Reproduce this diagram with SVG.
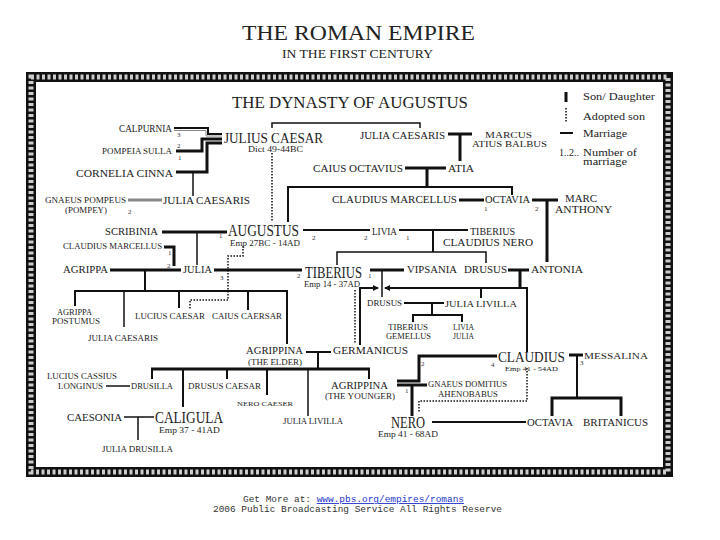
<svg xmlns="http://www.w3.org/2000/svg" width="720" height="540" viewBox="0 0 720 540">
<style>
.n{font-family:"Liberation Serif","DejaVu Serif",serif;fill:#222}
.k{font-family:"Liberation Serif","DejaVu Serif",serif;fill:#333;font-size:7px}
.lg{font-family:"Liberation Serif","DejaVu Serif",serif;fill:#222;font-size:9.5px}
.ft{font-family:"Liberation Mono","DejaVu Sans Mono",monospace;font-size:9px;fill:#333}
.ln{fill:none;stroke:#111;stroke-linecap:butt}
.w3{stroke-width:3}
.w2{stroke-width:2}
.w1{stroke-width:1.5}
.dt{stroke-width:1.5;stroke-dasharray:1.5 1.5}
.gr{stroke:#888}
</style>
<defs>
<marker id="ar" markerWidth="6" markerHeight="6" refX="5" refY="3" orient="auto" markerUnits="userSpaceOnUse">
<path d="M0,0 L6,3 L0,6 Z" fill="#111"/>
</marker>
</defs>
<rect width="720" height="540" fill="#fff"/>
<g id="title">
<text class="n" x="242" y="40" font-size="22" textLength="233" lengthAdjust="spacingAndGlyphs">THE ROMAN EMPIRE</text>
<text class="n" x="282" y="58" font-size="13" textLength="151" lengthAdjust="spacingAndGlyphs">IN THE FIRST CENTURY</text>
</g>
<g id="frame">
<rect x="31" y="77" width="637" height="395" fill="none" stroke="#111" stroke-width="10"/>
<rect x="31" y="77" width="637" height="395" fill="none" stroke="#ccc" stroke-width="5" stroke-dasharray="3 2.5"/>
</g>
<g id="heading">
<text class="n" x="232" y="108" font-size="16.5" textLength="236" lengthAdjust="spacingAndGlyphs">THE DYNASTY OF AUGUSTUS</text>
</g>
<g id="legend">
<line class="ln w3" x1="566" y1="92" x2="566" y2="102"/>
<line class="ln dt" x1="566" y1="108" x2="566" y2="122"/>
<line class="ln w2" x1="560" y1="133" x2="573" y2="133"/>
<text class="lg" x="583" y="100" textLength="72" lengthAdjust="spacingAndGlyphs">Son/ Daughter</text>
<text class="lg" x="583" y="120" textLength="62" lengthAdjust="spacingAndGlyphs">Adopted son</text>
<text class="lg" x="583" y="137" textLength="44" lengthAdjust="spacingAndGlyphs">Marriage</text>
<text class="lg" x="559" y="156" font-size="7.5" textLength="20" lengthAdjust="spacingAndGlyphs">1..2..</text>
<text class="lg" x="583" y="156" font-size="8.5" textLength="54" lengthAdjust="spacingAndGlyphs">Number of</text>
<text class="lg" x="583" y="165" font-size="8.5" textLength="44" lengthAdjust="spacingAndGlyphs">marriage</text>
</g>
<g id="connectors">
<polyline class="ln w1" points="272,128 272,123 420,123 420,128"/>
<line class="ln dt" x1="272" y1="153" x2="272" y2="222"/>
<polyline class="ln w2" points="174,128 208,128 208,134 222,134"/>
<polyline class="ln gr" stroke-width="1" points="174,130.5 206,130.5 206,136 222,136"/>
<polyline class="ln w3" points="176,151 202,151 202,139 222,139"/>
<polyline class="ln w3" points="176,172 207,172 207,143 222,143"/>
<line class="ln w1" x1="193" y1="172" x2="193" y2="196"/>
<line class="ln gr" stroke-width="3" x1="128" y1="200" x2="162" y2="200"/>
<line class="ln w3" x1="448" y1="134" x2="472" y2="134"/>
<line class="ln w3" x1="460" y1="134" x2="460" y2="161"/>
<line class="ln w3" x1="405" y1="168" x2="446" y2="168"/>
<line class="ln w3" x1="427" y1="168" x2="427" y2="187"/>
<polyline class="ln w2" points="288,222 288,187 512,187 512,195"/>
<line class="ln w3" x1="459" y1="200" x2="484" y2="200"/>
<line class="ln w3" x1="532" y1="200" x2="558" y2="200"/>
<line class="ln w3" x1="547" y1="200" x2="547" y2="262"/>
<line class="ln w3" x1="162" y1="232" x2="227" y2="232"/>
<line class="ln w1" x1="197" y1="232" x2="197" y2="265"/>
<line class="ln w2" x1="303" y1="230" x2="370" y2="230"/>
<line class="ln w2" x1="399" y1="230" x2="468" y2="230"/>
<line class="ln w2" x1="433" y1="230" x2="433" y2="252"/>
<polyline class="ln w1" points="337,265 337,252 486,252 486,263"/>
<polyline class="ln w3" points="164,247 174,247 174,266"/>
<line class="ln w3" x1="110" y1="270" x2="181" y2="270"/>
<line class="ln w3" x1="214" y1="270" x2="302" y2="270"/>
<line class="ln w2" x1="145" y1="270" x2="145" y2="291"/>
<line class="ln w2" x1="74" y1="291" x2="288" y2="291"/>
<line class="ln w2" x1="75" y1="291" x2="75" y2="306"/>
<line class="ln w1" x1="124" y1="291" x2="124" y2="327"/>
<line class="ln w2" x1="179" y1="291" x2="179" y2="308"/>
<line class="ln w2" x1="248" y1="291" x2="248" y2="310"/>
<line class="ln w2" x1="287" y1="291" x2="287" y2="344"/>
<polyline class="ln dt" points="243,246 243,256 228,256 228,300 190,300 190,310"/>
<line class="ln dt" x1="355" y1="290" x2="355" y2="343"/>
<line class="ln w3" x1="370" y1="270" x2="404" y2="270"/>
<line class="ln w1" x1="382" y1="270" x2="382" y2="297"/>
<line class="ln w3" x1="508" y1="270" x2="529" y2="270"/>
<line class="ln w3" x1="520" y1="270" x2="520" y2="288"/>
<line class="ln w2" x1="359" y1="288" x2="378" y2="288" marker-end="url(#ar)"/>
<line class="ln w2" x1="528" y1="288" x2="385" y2="288" marker-end="url(#ar)"/>
<line class="ln w2" x1="360" y1="288" x2="360" y2="345"/>
<line class="ln w2" x1="527" y1="288" x2="527" y2="352"/>
<line class="ln w2" x1="481" y1="288" x2="481" y2="298"/>
<line class="ln w2" x1="404" y1="303" x2="444" y2="303"/>
<line class="ln w2" x1="432" y1="303" x2="432" y2="315"/>
<polyline class="ln w2" points="413,322 413,315 462,315 462,322"/>
<line class="ln w2" x1="306" y1="352" x2="331" y2="352"/>
<line class="ln w2" x1="318" y1="352" x2="318" y2="369"/>
<line class="ln w3" x1="151" y1="369" x2="370" y2="369"/>
<line class="ln w2" x1="152" y1="369" x2="152" y2="379"/>
<line class="ln w2" x1="183" y1="369" x2="183" y2="407"/>
<line class="ln w2" x1="227" y1="369" x2="227" y2="379"/>
<line class="ln w2" x1="267" y1="369" x2="267" y2="395"/>
<line class="ln w1" x1="308" y1="369" x2="308" y2="416"/>
<line class="ln w2" x1="369" y1="369" x2="369" y2="379"/>
<line class="ln w1" x1="106" y1="386" x2="130" y2="386"/>
<line class="ln w1" x1="124" y1="417" x2="154" y2="417"/>
<line class="ln w1" x1="138" y1="417" x2="138" y2="440"/>
<polyline class="ln w3" points="397,381 419,381 419,356 497,356"/>
<line class="ln w3" x1="397" y1="385" x2="427" y2="385"/>
<line class="ln w3" x1="412" y1="385" x2="412" y2="416"/>
<polyline class="ln dt" points="527,368 527,401 419,401 419,412"/>
<line class="ln w3" x1="569" y1="355" x2="583" y2="355"/>
<line class="ln w2" x1="577" y1="355" x2="577" y2="398"/>
<polyline class="ln w3" points="552,416 552,398 621,398 621,416"/>
<line class="ln w2" x1="432" y1="422" x2="526" y2="422"/>
</g>
<g id="calpurnia"><text class="n" x="119" y="132" font-size="9.5" textLength="53" lengthAdjust="spacingAndGlyphs">CALPURNIA</text><text class="k" x="177" y="137">3</text></g>
<g id="pompeia-sulla"><text class="n" x="102" y="154" font-size="8.5" textLength="70" lengthAdjust="spacingAndGlyphs">POMPEIA SULLA</text><text class="k" x="177" y="148">2</text><text class="k" x="178" y="160">1</text></g>
<g id="julius-caesar"><text class="n" x="224" y="143" font-size="15" textLength="99" lengthAdjust="spacingAndGlyphs">JULIUS CAESAR</text><text class="n" x="248" y="152" font-size="7.5" textLength="55" lengthAdjust="spacingAndGlyphs">Dict 49-44BC</text></g>
<g id="cornelia-cinna"><text class="n" x="76" y="177" font-size="11" textLength="97" lengthAdjust="spacingAndGlyphs">CORNELIA CINNA</text></g>
<g id="julia-caesaris-daughter"><text class="n" x="163" y="204" font-size="11" textLength="87" lengthAdjust="spacingAndGlyphs">JULIA CAESARIS</text></g>
<g id="pompey"><text class="n" x="45" y="203" font-size="7.5" textLength="81" lengthAdjust="spacingAndGlyphs">GNAEUS POMPEUS</text><text class="n" x="65" y="213" font-size="7.5" textLength="42" lengthAdjust="spacingAndGlyphs">(POMPEY)</text><text class="k" x="128" y="214">2</text></g>
<g id="julia-caesaris-sister"><text class="n" x="360" y="139" font-size="10" textLength="85" lengthAdjust="spacingAndGlyphs">JULIA CAESARIS</text></g>
<g id="marcus-atius-balbus"><text class="n" x="485" y="138" font-size="9" textLength="47" lengthAdjust="spacingAndGlyphs">MARCUS</text><text class="n" x="472" y="147" font-size="9" textLength="75" lengthAdjust="spacingAndGlyphs">ATIUS BALBUS</text></g>
<g id="caius-octavius"><text class="n" x="313" y="172" font-size="10.5" textLength="90" lengthAdjust="spacingAndGlyphs">CAIUS OCTAVIUS</text></g>
<g id="atia"><text class="n" x="448" y="172" font-size="10.5" textLength="26" lengthAdjust="spacingAndGlyphs">ATIA</text></g>
<g id="claudius-marcellus"><text class="n" x="332" y="203" font-size="10" textLength="125" lengthAdjust="spacingAndGlyphs">CLAUDIUS MARCELLUS</text></g>
<g id="octavia"><text class="n" x="485" y="203" font-size="10" textLength="45" lengthAdjust="spacingAndGlyphs">OCTAVIA</text><text class="k" x="484" y="211">1</text><text class="k" x="535" y="211">2</text></g>
<g id="marc-anthony"><text class="n" x="565" y="202" font-size="9.5" textLength="32" lengthAdjust="spacingAndGlyphs">MARC</text><text class="n" x="555" y="213" font-size="10.5" textLength="57" lengthAdjust="spacingAndGlyphs">ANTHONY</text></g>
<g id="scribinia"><text class="n" x="105" y="235" font-size="10.5" textLength="53" lengthAdjust="spacingAndGlyphs">SCRIBINIA</text></g>
<g id="augustus"><text class="n" x="228" y="236" font-size="16" textLength="71" lengthAdjust="spacingAndGlyphs">AUGUSTUS</text><text class="n" x="230" y="246" font-size="8" textLength="70" lengthAdjust="spacingAndGlyphs">Emp 27BC - 14AD</text><text class="k" x="219" y="238">1</text><text class="k" x="312" y="240">2</text></g>
<g id="livia"><text class="n" x="372" y="235" font-size="9.5" textLength="25" lengthAdjust="spacingAndGlyphs">LIVIA</text><text class="k" x="364" y="240">2</text><text class="k" x="406" y="240">1</text></g>
<g id="tiberius-claudius-nero"><text class="n" x="470" y="235" font-size="9.5" textLength="45" lengthAdjust="spacingAndGlyphs">TIBERIUS</text><text class="n" x="443" y="246" font-size="10" textLength="90" lengthAdjust="spacingAndGlyphs">CLAUDIUS NERO</text></g>
<g id="claudius-marcellus-2"><text class="n" x="63" y="249" font-size="7.5" textLength="99" lengthAdjust="spacingAndGlyphs">CLAUDIUS MARCELLUS</text><text class="k" x="168" y="255">1</text></g>
<g id="agrippa"><text class="n" x="63" y="273" font-size="10" textLength="45" lengthAdjust="spacingAndGlyphs">AGRIPPA</text><text class="k" x="167" y="268">2</text></g>
<g id="julia"><text class="n" x="183" y="273" font-size="10" textLength="29" lengthAdjust="spacingAndGlyphs">JULIA</text><text class="k" x="220" y="280">3</text></g>
<g id="tiberius"><text class="n" x="305" y="278" font-size="16" textLength="57" lengthAdjust="spacingAndGlyphs">TIBERIUS</text><text class="n" x="304" y="287" font-size="8" textLength="56" lengthAdjust="spacingAndGlyphs">Emp 14 - 37AD</text><text class="k" x="297" y="278">2</text><text class="k" x="368" y="278">1</text></g>
<g id="vipsania"><text class="n" x="407" y="273" font-size="10" textLength="50" lengthAdjust="spacingAndGlyphs">VIPSANIA</text></g>
<g id="drusus-elder"><text class="n" x="464" y="273" font-size="10" textLength="43" lengthAdjust="spacingAndGlyphs">DRUSUS</text></g>
<g id="antonia"><text class="n" x="531" y="273" font-size="10" textLength="52" lengthAdjust="spacingAndGlyphs">ANTONIA</text></g>
<g id="drusus"><text class="n" x="367" y="306" font-size="8.5" textLength="35" lengthAdjust="spacingAndGlyphs">DRUSUS</text></g>
<g id="julia-livilla-1"><text class="n" x="445" y="307" font-size="8.5" textLength="72" lengthAdjust="spacingAndGlyphs">JULIA LIVILLA</text></g>
<g id="tiberius-gemellus"><text class="n" x="388" y="330" font-size="7.5" textLength="40" lengthAdjust="spacingAndGlyphs">TIBERIUS</text><text class="n" x="386" y="339" font-size="7.5" textLength="45" lengthAdjust="spacingAndGlyphs">GEMELLUS</text></g>
<g id="livia-julia"><text class="n" x="453" y="330" font-size="7.5" textLength="21" lengthAdjust="spacingAndGlyphs">LIVIA</text><text class="n" x="453" y="339" font-size="7.5" textLength="21" lengthAdjust="spacingAndGlyphs">JULIA</text></g>
<g id="agrippa-postumus"><text class="n" x="57" y="315" font-size="7.5" textLength="35" lengthAdjust="spacingAndGlyphs">AGRIPPA</text><text class="n" x="52" y="324" font-size="7.5" textLength="48" lengthAdjust="spacingAndGlyphs">POSTUMUS</text></g>
<g id="lucius-caesar"><text class="n" x="135" y="319" font-size="8" textLength="70" lengthAdjust="spacingAndGlyphs">LUCIUS CAESAR</text></g>
<g id="caius-caesar"><text class="n" x="212" y="319" font-size="8" textLength="70" lengthAdjust="spacingAndGlyphs">CAIUS CAERSAR</text></g>
<g id="julia-caesaris-2"><text class="n" x="88" y="341" font-size="8" textLength="70" lengthAdjust="spacingAndGlyphs">JULIA CAESARIS</text></g>
<g id="agrippina-elder"><text class="n" x="246" y="354" font-size="10" textLength="57" lengthAdjust="spacingAndGlyphs">AGRIPPINA</text><text class="n" x="248" y="365" font-size="7.5" textLength="54" lengthAdjust="spacingAndGlyphs">(THE ELDER)</text></g>
<g id="germanicus"><text class="n" x="333" y="354" font-size="11" textLength="75" lengthAdjust="spacingAndGlyphs">GERMANICUS</text></g>
<g id="claudius"><text class="n" x="498" y="362" font-size="15" textLength="67" lengthAdjust="spacingAndGlyphs">CLAUDIUS</text><text class="n" x="505" y="371" font-size="7" textLength="53" lengthAdjust="spacingAndGlyphs">Emp 41 - 54AD</text><text class="k" x="491" y="367">4</text><text class="k" x="421" y="366">2</text></g>
<g id="messalina"><text class="n" x="584" y="359" font-size="9" textLength="64" lengthAdjust="spacingAndGlyphs">MESSALINA</text><text class="k" x="580" y="365">3</text></g>
<g id="lucius-cassius-longinus"><text class="n" x="47" y="379" font-size="8" textLength="70" lengthAdjust="spacingAndGlyphs">LUCIUS CASSIUS</text><text class="n" x="58" y="389" font-size="8" textLength="45" lengthAdjust="spacingAndGlyphs">LONGINUS</text></g>
<g id="drusilla"><text class="n" x="131" y="389" font-size="8" textLength="42" lengthAdjust="spacingAndGlyphs">DRUSILLA</text></g>
<g id="drusus-caesar"><text class="n" x="188" y="389" font-size="8" textLength="73" lengthAdjust="spacingAndGlyphs">DRUSUS CAESAR</text></g>
<g id="nero-caeser"><text class="n" x="237" y="406" font-size="7" textLength="56" lengthAdjust="spacingAndGlyphs">NERO CAESER</text></g>
<g id="agrippina-younger"><text class="n" x="331" y="389" font-size="10" textLength="57" lengthAdjust="spacingAndGlyphs">AGRIPPINA</text><text class="n" x="325" y="399" font-size="8" textLength="70" lengthAdjust="spacingAndGlyphs">(THE YOUNGER)</text><text class="k" x="405" y="393">1</text></g>
<g id="gnaeus-domitius"><text class="n" x="428" y="387" font-size="7.5" textLength="79" lengthAdjust="spacingAndGlyphs">GNAEUS DOMITIUS</text><text class="n" x="438" y="397" font-size="7.5" textLength="60" lengthAdjust="spacingAndGlyphs">AHENOBABUS</text></g>
<g id="caesonia"><text class="n" x="67" y="421" font-size="11" textLength="55" lengthAdjust="spacingAndGlyphs">CAESONIA</text></g>
<g id="caligula"><text class="n" x="155" y="423" font-size="16" textLength="68" lengthAdjust="spacingAndGlyphs">CALIGULA</text><text class="n" x="159" y="433" font-size="8.5" textLength="61" lengthAdjust="spacingAndGlyphs">Emp 37 - 41AD</text></g>
<g id="julia-livilla-2"><text class="n" x="283" y="424" font-size="8.5" textLength="60" lengthAdjust="spacingAndGlyphs">JULIA LIVILLA</text></g>
<g id="nero"><text class="n" x="391" y="428" font-size="16" textLength="34" lengthAdjust="spacingAndGlyphs">NERO</text><text class="n" x="378" y="437" font-size="8" textLength="60" lengthAdjust="spacingAndGlyphs">Emp 41 - 68AD</text></g>
<g id="octavia-2"><text class="n" x="527" y="426" font-size="11" textLength="46" lengthAdjust="spacingAndGlyphs">OCTAVIA</text></g>
<g id="britanicus"><text class="n" x="583" y="426" font-size="11" textLength="65" lengthAdjust="spacingAndGlyphs">BRITANICUS</text></g>
<g id="julia-drusilla"><text class="n" x="102" y="452" font-size="8.5" textLength="71" lengthAdjust="spacingAndGlyphs">JULIA DRUSILLA</text></g>
<g id="footer">
<text class="ft" x="243" y="502" textLength="221" lengthAdjust="spacingAndGlyphs">Get More at: <tspan fill="#2233cc" text-decoration="underline">www.pbs.org/empires/romans</tspan></text>
<text class="ft" x="213" y="512" textLength="289" lengthAdjust="spacingAndGlyphs">2006 Public Broadcasting Service All Rights Reserve</text>
</g>
</svg>
